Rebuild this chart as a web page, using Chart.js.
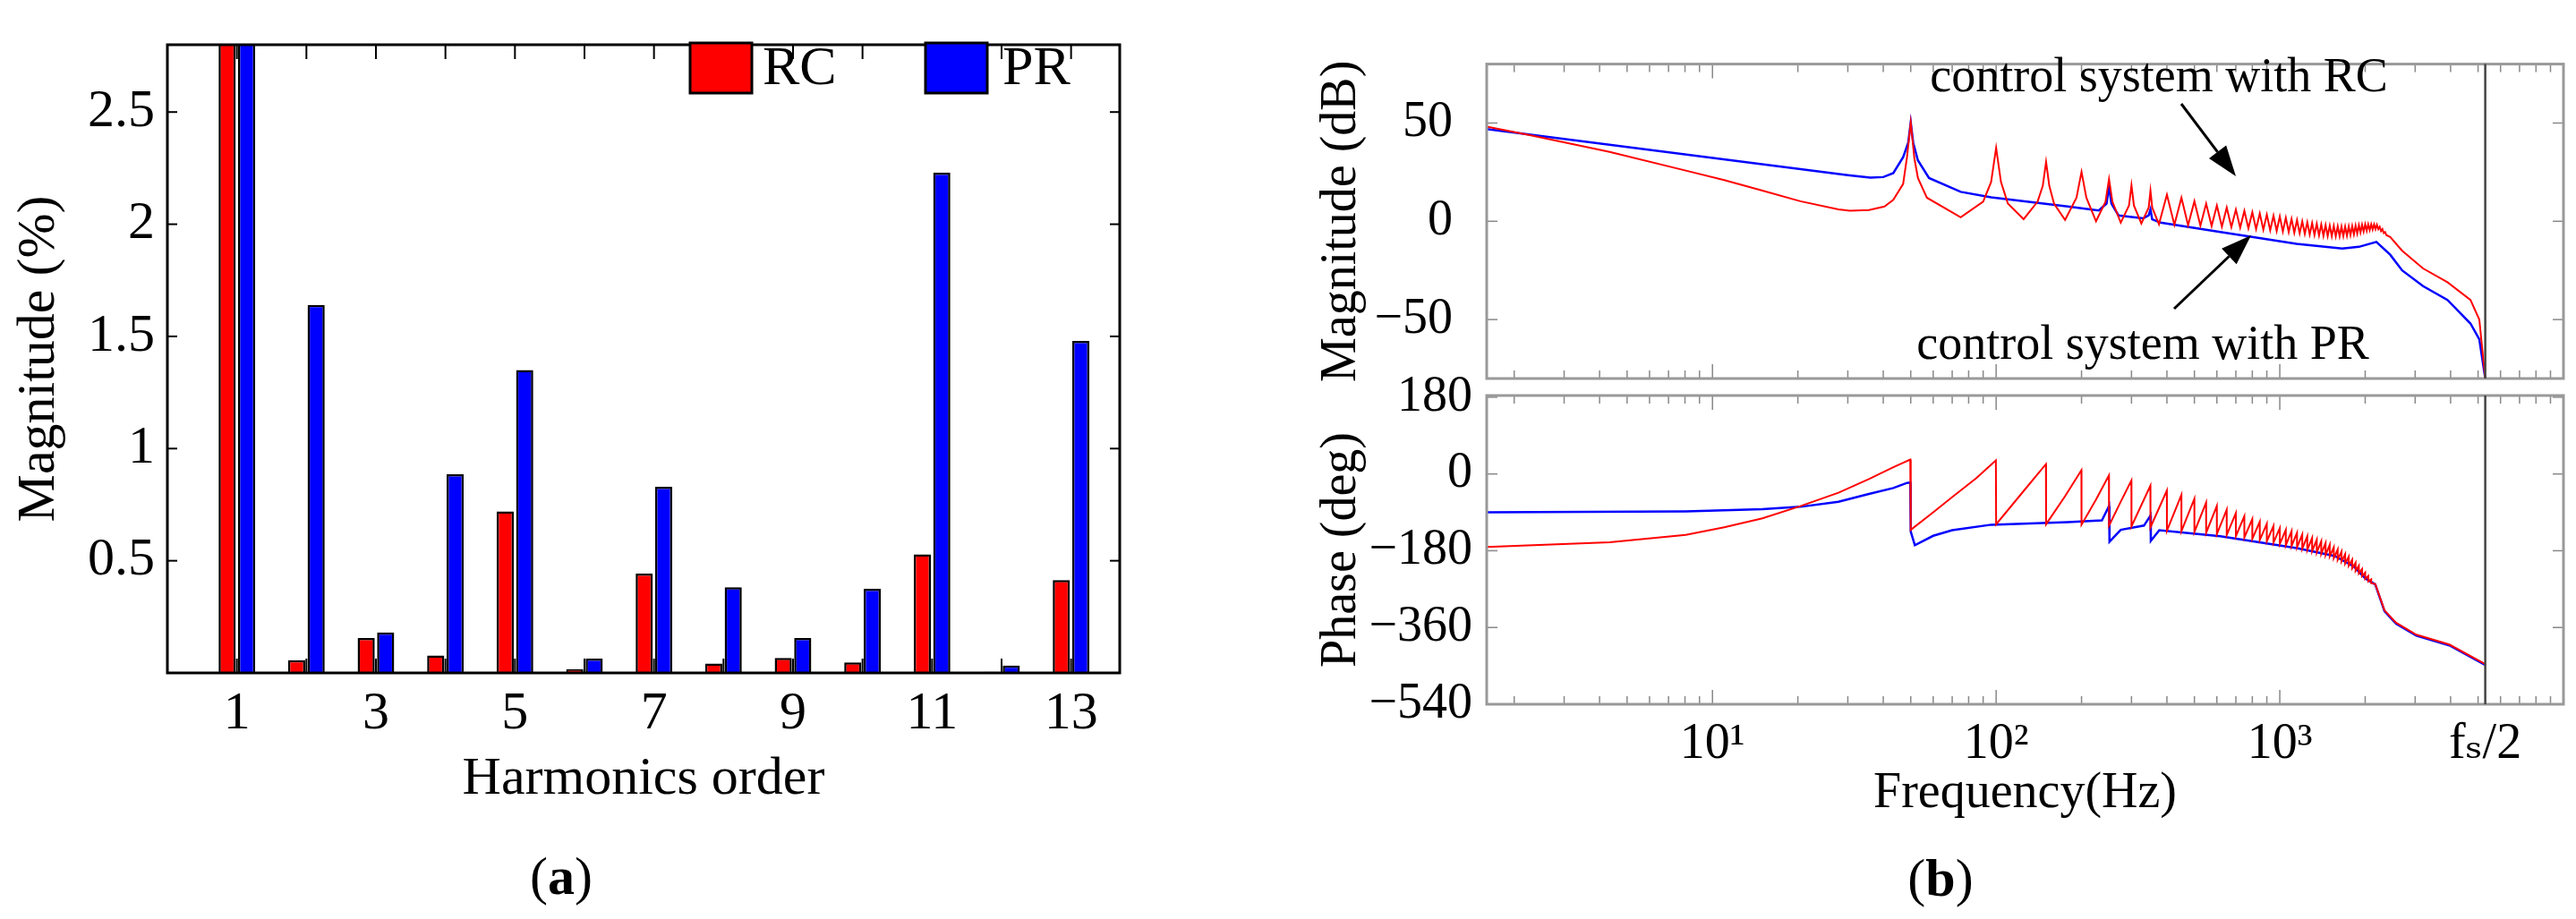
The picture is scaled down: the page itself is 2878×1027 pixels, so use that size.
<!DOCTYPE html>
<html><head><meta charset="utf-8">
<script src="https://cdn.jsdelivr.net/npm/chart.js@4/dist/chart.umd.min.js"></script>
<style>
html,body{margin:0;padding:0;background:#fff;width:2878px;height:1027px;overflow:hidden}
canvas{position:absolute;top:0}
</style></head><body>
<canvas id="bar" width="1300" height="1027" style="left:0"></canvas>
<canvas id="mag" width="1578" height="1027" style="left:1300px"></canvas>
<canvas id="pha" width="1578" height="1027" style="left:1300px"></canvas>
<script>
// ---------- DATA ----------
const harmonics = [1,2,3,4,5,6,7,8,9,10,11,12,13];
const rcHarm = [3.0,0.057,0.156,0.078,0.72,0.017,0.443,0.042,0.067,0.047,0.528,0.005,0.414];
const prHarm = [3.0,1.64,0.18,0.885,1.35,0.064,0.83,0.382,0.156,0.375,2.23,0.033,1.48];
const barYTicks = [0.5,1,1.5,2,2.5];
const barXLabels = ['1','','3','','5','','7','','9','','11','','13'];

const freqTicks = [10,100,1000,5300];
const freqTickLabels = ['10¹','10²','10³','fₛ/2'];
const fsHalf = 5300;
const magTicks = [-50,0,50];
const phaseTicks = [-540,-360,-180,0,180];

const prMag = [[1.6,46.9],[30,23.5],[36,22.2],[40,22.5],[43.4,24.5],[47,32.6],[49,40],[50,50.3],[51,40],[53,31],[58,22],[75,15],[96,12.2],[179,7.5],[230,5.5],[245,9],[250,17.7],[255,9],[270,3],[330,1.5],[345,3],[350,6],[355,1],[380,-0.7],[617,-5.4],[1146,-11.5],[1660,-13.9],[1900,-13],[2190,-10.5],[2450,-17],[2700,-25],[3200,-33],[3900,-40],[4700,-52],[5050,-60],[5300,-80]];

const rcMag = [[1.6,48.2],[2.33,43.5],[4.34,35.3],[8.05,25.8],[11,21],[15,15.6],[20.4,10.2],[27.8,6.1],[30.5,5.4],[35.6,5.7],[40.4,7.5],[43.4,10.9],[47,19],[48.5,32.6],[50,50.3],[51.5,32],[53,22],[57,12],[75,2],[90,10],[96,20],[100,37.4],[104,20],[110,9],[125,1.1],[140,10],[146,18],[150,30.2],[154,18],[160,9],[175,0.7],[192,12],[200,25.1],[208,12],[225,0],[243,10],[250,21.5],[257,10],[275,-0.7],[294,8],[300,18.3],[306,8],[325,-1.1],[345,7],[350,15.6],[355,7],[375,-1.5],[400,13.6],[425,-1.8],[450,12],[475,-2],[500,10.2],[525,-2.2],[550,9],[575,-2.4],[600,8],[625,-2.7],[650,7],[675,-3],[700,6],[725,-3.3],[750,5.3],[775,-3.6],[800,4.6],[825,-4],[850,4],[875,-4.3],[900,3.4],[925,-4.6],[950,2.9],[975,-4.9],[1000,2.5],[1025,-5.2],[1050,1.8],[1075,-5.5],[1100,1.2],[1125,-5.8],[1150,0.6],[1175,-6.1],[1200,0],[1225,-6.4],[1250,-0.5],[1275,-6.7],[1300,-0.9],[1325,-7],[1350,-1.3],[1375,-7.2],[1400,-1.6],[1425,-7.4],[1450,-1.9],[1475,-7.5],[1500,-2.2],[1525,-7.6],[1550,-2.4],[1575,-7.6],[1600,-2.6],[1625,-7.6],[1650,-2.7],[1675,-7.5],[1700,-2.7],[1725,-7.3],[1750,-2.6],[1775,-7],[1800,-2.4],[1825,-6.6],[1850,-2.2],[1875,-6.2],[1900,-2],[1925,-5.7],[1950,-1.8],[1975,-5.2],[2000,-1.6],[2025,-4.8],[2050,-1.5],[2075,-4.4],[2100,-1.5],[2125,-4.2],[2150,-1.6],[2175,-4],[2200,-1.8],[2225,-4],[2250,-2.8],[2275,-5],[2300,-4],[2325,-6],[2350,-5.5],[2375,-7],[2450,-8],[2700,-15],[3200,-24],[3900,-31],[4700,-40],[5050,-50],[5300,-80]];

const prPhase = [[1.6,-90],[8.05,-87.5],[15,-82.6],[20.4,-77],[27.8,-65],[35.6,-47],[43.4,-33],[48.5,-21],[49.8,-20],[50,-135],[51.7,-167],[60,-145],[70,-132],[96,-119],[179,-113],[236,-109],[248,-80],[250,-75],[251,-159],[275,-131],[332,-121],[348,-100],[350,-97],[351,-157],[376,-132],[617,-146],[1146,-174],[1560,-192],[1824,-217],[2003,-245],[2170,-259],[2340,-322],[2570,-351],[3030,-379],[3960,-402],[5300,-448]];

const rcPhase = [[1.6,-171],[4.34,-160],[8.05,-143],[11,-125],[15,-104],[20.4,-75.5],[27.8,-44],[35.6,-12],[43.4,16],[49.8,34],[50,-131],[60,-90],[70,-54],[85,-10],[99.8,32],[100,-118],[125,-40],[149.8,23],[150,-118],[175,-52],[199.8,9],[200,-119],[225,-60],[249.8,-3.5],[250,-121],[275,-65],[299.8,-15.5],[300,-123],[349.8,-27.5],[350,-125],[399.8,-39],[400,-133],[449.8,-49],[450,-134],[499.8,-58],[500,-136],[549.8,-67],[550,-138],[599.8,-75],[600,-141],[649.8,-84],[650,-143],[699.8,-92],[700,-146],[749.8,-99],[750,-149],[799.8,-106],[800,-152],[849.8,-112],[850,-155],[899.8,-117],[900,-158],[949.8,-122],[950,-161],[999.8,-127],[1000,-164],[1049.8,-131],[1050,-167],[1099.8,-134],[1100,-169],[1149.8,-138],[1150,-172],[1199.8,-142],[1200,-175],[1249.8,-146],[1250,-178],[1299.8,-150],[1300,-181],[1349.8,-154],[1350,-184],[1399.8,-158],[1400,-187],[1449.8,-162],[1450,-190],[1499.8,-166],[1500,-193],[1549.8,-172],[1550,-197],[1599.8,-177],[1600,-201],[1649.8,-182],[1650,-205],[1699.8,-188],[1700,-210],[1749.8,-194],[1750,-215],[1799.8,-201],[1800,-221],[1849.8,-208],[1850,-227],[1899.8,-215],[1900,-233],[1949.8,-223],[1950,-239],[1999.8,-231],[2000,-246],[2049.8,-239],[2050,-252],[2099.8,-247],[2100,-256],[2170,-258],[2340,-320],[2570,-349],[3030,-377],[3960,-400],[5300,-446]];

// ---------- helpers ----------
const SERIF = '"Liberation Serif","DejaVu Serif",serif';
const toXY = a => a.map(p => ({x:p[0], y:p[1]}));
function fitW(w){ return s => { s.width = w; }; }
function fitH(h){ return s => { s.height = h; }; }

function drawPanelLabel(g,letter,cx,cy){
  g.fillStyle='#000'; g.textBaseline='middle'; g.textAlign='left';
  g.font='60px '+SERIF; const w1=g.measureText('(').width;
  g.font='bold 60px '+SERIF; const w2=g.measureText(letter).width;
  g.font='60px '+SERIF; const w3=g.measureText(')').width;
  const x0=cx-(w1+w2+w3)/2;
  g.fillText('(',x0,cy); g.font='bold 60px '+SERIF; g.fillText(letter,x0+w1,cy);
  g.font='60px '+SERIF; g.fillText(')',x0+w1+w2,cy);
}

const barDeco = {
  id:'barDeco',
  afterDraw(c){
    const g=c.ctx, a=c.chartArea, xs=c.scales.x, ys=c.scales.y;
    g.save();
    g.strokeStyle='#000'; g.lineWidth=2;
    harmonics.forEach(h=>{const px=xs.getPixelForValue(h);
      g.beginPath(); g.moveTo(px,a.top); g.lineTo(px,a.top+16); g.stroke();
      g.beginPath(); g.moveTo(px,a.bottom); g.lineTo(px,a.bottom-16); g.stroke();});
    barYTicks.forEach(v=>{const py=ys.getPixelForValue(v);
      g.beginPath(); g.moveTo(a.left,py); g.lineTo(a.left+11,py); g.stroke();
      g.beginPath(); g.moveTo(a.right,py); g.lineTo(a.right-11,py); g.stroke();});
    g.lineWidth=3; g.strokeRect(a.left,a.top,a.right-a.left,a.bottom-a.top);
    g.lineWidth=3;
    g.fillStyle='#ff0000'; g.fillRect(771,48,69,56); g.strokeRect(771,48,69,56);
    g.fillStyle='#0000ff'; g.fillRect(1034,48,69,56); g.strokeRect(1034,48,69,56);
    g.fillStyle='#000'; g.font='62px '+SERIF; g.textBaseline='middle'; g.textAlign='left';
    g.fillText('RC',852,78); g.fillText('PR',1120,78);
    drawPanelLabel(g,'a',627,983);
    g.restore();
  }
};

new Chart(document.getElementById('bar'),{
  type:'bar',
  data:{datasets:[
    {label:'RC',data:harmonics.map((h,i)=>({x:h,y:rcHarm[i]})),backgroundColor:'#ff0000',borderColor:'#000',borderWidth:2.5,borderSkipped:'bottom',categoryPercentage:0.56,barPercentage:0.88},
    {label:'PR',data:harmonics.map((h,i)=>({x:h,y:prHarm[i]})),backgroundColor:'#0000ff',borderColor:'#000',borderWidth:2.5,borderSkipped:'bottom',categoryPercentage:0.56,barPercentage:0.88}
  ]},
  options:{
    responsive:false,animation:false,devicePixelRatio:1,
    layout:{padding:{left:0,top:21,right:49,bottom:0}},
    plugins:{legend:{display:false},tooltip:{enabled:false}},
    scales:{
      x:{type:'linear',min:0,max:13.7,offset:false,afterFit:fitH(275),
        grid:{display:false,drawTicks:false},border:{display:false},
        afterBuildTicks:s=>{s.ticks=harmonics.map(v=>({value:v}));},
        ticks:{padding:10,color:'#000',font:{family:SERIF,size:60},maxRotation:0,autoSkip:false,
          callback:(v,i)=>barXLabels[i]},
        title:{display:true,text:'Harmonics order',color:'#000',font:{family:SERIF,size:60},padding:{bottom:120}}},
      y:{min:0,max:2.8,afterFit:fitW(187),
        grid:{display:false,drawTicks:false},border:{display:false},
        afterBuildTicks:s=>{s.ticks=barYTicks.map(v=>({value:v}));},
        ticks:{padding:14,color:'#000',font:{family:SERIF,size:60},callback:v=>String(v)},
        title:{display:true,text:'Magnitude (%)',color:'#000',font:{family:SERIF,size:60},padding:{top:8}}}
    }
  },
  plugins:[barDeco]
});

function arrow(g,x1,y1,x2,y2){
  const ang=Math.atan2(y2-y1,x2-x1), L=34, W=12;
  g.strokeStyle='#000'; g.lineWidth=3;
  g.beginPath(); g.moveTo(x1,y1); g.lineTo(x2-L*Math.cos(ang),y2-L*Math.sin(ang)); g.stroke();
  g.fillStyle='#000'; g.beginPath(); g.moveTo(x2,y2);
  g.lineTo(x2-L*Math.cos(ang)+W*Math.sin(ang), y2-L*Math.sin(ang)-W*Math.cos(ang));
  g.lineTo(x2-L*Math.cos(ang)-W*Math.sin(ang), y2-L*Math.sin(ang)+W*Math.cos(ang));
  g.closePath(); g.fill();
}

function bodeDeco(isMag){
  return {
    id:'bodeDeco',
    afterDraw(c){
      const g=c.ctx,a=c.chartArea,xs=c.scales.x,ys=c.scales.y;
      g.save();
      g.strokeStyle='#888'; g.lineWidth=1.5;
      for(let k=0;k<4;k++){for(let m=1;m<10;m++){const f=m*Math.pow(10,k);
        if(f<xs.min||f>xs.max) continue;
        const px=xs.getPixelForValue(f); const L=(m===1)?16:9;
        g.beginPath();g.moveTo(px,a.top);g.lineTo(px,a.top+L);g.stroke();
        g.beginPath();g.moveTo(px,a.bottom);g.lineTo(px,a.bottom-L);g.stroke();}}
      (isMag?magTicks:phaseTicks).forEach(v=>{const py=ys.getPixelForValue(v);
        g.beginPath();g.moveTo(a.left,py);g.lineTo(a.left+12,py);g.stroke();
        g.beginPath();g.moveTo(a.right,py);g.lineTo(a.right-12,py);g.stroke();});
      g.lineWidth=3; g.strokeStyle='#999';
      g.strokeRect(a.left,a.top,a.right-a.left,a.bottom-a.top);
      const fx=xs.getPixelForValue(fsHalf);
      g.strokeStyle='#444'; g.lineWidth=2.5;
      g.beginPath();g.moveTo(fx,a.top);g.lineTo(fx,a.bottom);g.stroke();
      if(isMag){
        g.fillStyle='#000'; g.font='54px '+SERIF; g.textAlign='center'; g.textBaseline='middle';
        g.fillText('control system with RC',2412-1300,88);
        g.fillText('control system with PR',2394-1300,387);
        arrow(g,2437-1300,116,2498-1300,197);
        arrow(g,2429-1300,345,2515-1300,263);
      } else {
        drawPanelLabel(g,'b',2168-1300,985);
      }
      g.restore();
    }
  };
}

const lineDs = (data,color,w)=>({data:toXY(data),borderColor:color,borderWidth:w,pointRadius:0,tension:0,fill:false});
const bodeXBase = {type:'logarithmic',min:1.6,max:10000,grid:{display:false,drawTicks:false},border:{display:false}};

new Chart(document.getElementById('mag'),{
  type:'line',
  data:{datasets:[lineDs(rcMag,'#ff0000',2),lineDs(prMag,'#0000ff',2.5)]},
  options:{
    responsive:false,animation:false,devicePixelRatio:1,
    layout:{padding:{left:0,top:31,right:14,bottom:604}},
    plugins:{legend:{display:false},tooltip:{enabled:false}},
    scales:{
      x:Object.assign({},bodeXBase,{display:false}),
      y:{min:-80,max:80,afterFit:fitW(361),grid:{display:false,drawTicks:false},border:{display:false},
        afterBuildTicks:s=>{s.ticks=magTicks.map(v=>({value:v}));},
        ticks:{padding:38,color:'#000',font:{family:SERIF,size:56},callback:v=>String(v).replace('-','−')},
        title:{display:true,text:'Magnitude (dB)',color:'#000',font:{family:SERIF,size:56},padding:{top:166}}}
    }
  },
  plugins:[bodeDeco(true)]
});

new Chart(document.getElementById('pha'),{
  type:'line',
  data:{datasets:[lineDs(rcPhase,'#ff0000',2),lineDs(prPhase,'#0000ff',2.5)]},
  options:{
    responsive:false,animation:false,devicePixelRatio:1,
    layout:{padding:{left:0,top:442,right:14,bottom:0}},
    plugins:{legend:{display:false},tooltip:{enabled:false}},
    scales:{
      x:Object.assign({},bodeXBase,{afterFit:fitH(240),
        afterBuildTicks:s=>{s.ticks=freqTicks.map(v=>({value:v}));},
        ticks:{padding:12,color:'#000',font:{family:SERIF,size:56},maxRotation:0,autoSkip:false,
          callback:(v,i)=>freqTickLabels[i]},
        title:{display:true,text:'Frequency(Hz)',color:'#000',font:{family:SERIF,size:56},padding:{bottom:106}}}),
      y:{min:-540,max:184,afterFit:fitW(361),grid:{display:false,drawTicks:false},border:{display:false},
        afterBuildTicks:s=>{s.ticks=phaseTicks.map(v=>({value:v}));},
        ticks:{padding:16,color:'#000',font:{family:SERIF,size:56},callback:v=>String(v).replace('-','−')},
        title:{display:true,text:'Phase (deg)',color:'#000',font:{family:SERIF,size:56},padding:{top:166}}}
    }
  },
  plugins:[bodeDeco(false)]
});
</script>
</body></html>
